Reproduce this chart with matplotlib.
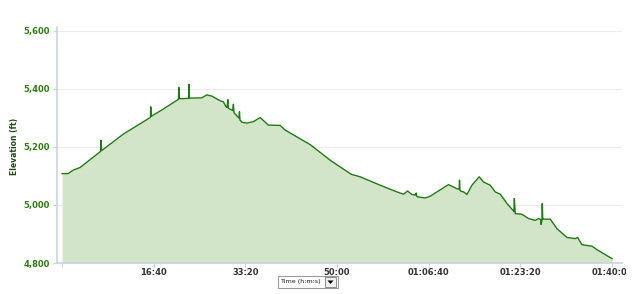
import matplotlib
matplotlib.use("Agg")
import matplotlib.pyplot as plt
from matplotlib.patches import Rectangle, Polygon
from matplotlib.transforms import Bbox

# elapsed time (s) and elevation (ft)
time_s = [0, 66, 123, 197, 415, 421, 426, 431, 669, 961, 965, 968, 972, 1103,
          1266, 1270, 1274, 1278, 1376, 1381, 1386, 1390, 1525, 1580, 1634,
          1725, 1761, 1790, 1800, 1809, 1815, 1853, 1862, 1870, 1876, 1925,
          1931, 1936, 1941, 1962, 2016, 2088, 2162, 2252, 2380, 2434, 2707,
          2926, 3144, 3163, 3253, 3472, 3654, 3726, 3770, 3818, 3860, 3865,
          3870, 3879, 3963, 4017, 4091, 4217, 4309, 4333, 4337, 4342, 4353,
          4381, 4418, 4473, 4552, 4599, 4672, 4727, 4782, 4855, 4927, 4931,
          4935, 4945, 5018, 5091, 5164, 5200, 5222, 5226, 5236, 5240, 5245,
          5255, 5328, 5401, 5510, 5600, 5626, 5673, 5783, 5837, 6001]
elev_ft = [5108, 5108, 5120, 5129, 5183, 5185, 5223, 5187, 5244, 5301, 5303, 5338,
           5305, 5330, 5363, 5364, 5405, 5366, 5367, 5367, 5416, 5368, 5369, 5379,
           5375, 5359, 5355, 5338, 5336, 5363, 5333, 5327, 5325, 5347, 5318, 5301,
           5299, 5321, 5293, 5285, 5282, 5287, 5301, 5275, 5274, 5258, 5208, 5154,
           5108, 5105, 5097, 5068, 5045, 5037, 5048, 5036, 5034, 5041, 5030, 5028,
           5024, 5030, 5045, 5070, 5056, 5054, 5085, 5050, 5047, 5045, 5036, 5068,
           5097, 5079, 5068, 5045, 5037, 5005, 4979, 4977, 5022, 4970, 4968, 4953,
           4947, 4953, 4950, 4933, 4945, 5005, 4951, 4951, 4951, 4918, 4888, 4884,
           4888, 4863, 4858, 4846, 4815]

x_ticks = [1000, 2000, 3000, 4000, 5000, 6000]
x_tick_labels = ["16:40", "33:20", "50:00", "01:06:40", "01:23:20", "01:40:00"]
y_ticks = [4800, 5000, 5200, 5400, 5600]
y_tick_labels = ["4,800", "5,000", "5,200", "5,400", "5,600"]

line_col = "#1e7a12"
fill_col = "#d3e5c8"
label_green = "#2e7d10"

W, H = 640, 294
fig = plt.figure(figsize=(6.4, 2.94), dpi=100)
ax = fig.add_axes([57 / W, 1 - 263 / H, 565 / W, 236 / H])

ax.fill_between(time_s, elev_ft, 4800, color=fill_col, lw=0)
ax.plot(time_s, elev_ft, color=line_col, lw=1.0)

ax.set_xlim(-55, 6110)
ax.set_ylim(4800, 5613)

ax.set_yticks(y_ticks)
ax.set_yticklabels(y_tick_labels, fontsize=6, fontweight="bold", color=label_green)
ax.set_xticks([0] + x_ticks)
ax.set_xticklabels([""] + x_tick_labels, fontsize=6, fontweight="bold", color="#333333")
ax.tick_params(axis="y", length=3, width=0.8, color="#c8d4e0", pad=2)
ax.tick_params(axis="x", length=3, width=0.8, color="#c8d4e0", pad=0.5)

ax.grid(axis="y", color="#ececec", lw=0.8)
ax.set_axisbelow(True)
for s in ["top", "right"]:
    ax.spines[s].set_visible(False)
ax.spines["left"].set_color("#c8d4e0")
ax.spines["left"].set_linewidth(1.2)
ax.spines["bottom"].set_color("#c8d4e0")
ax.spines["bottom"].set_linewidth(1.2)

fig.text(15 / W, 1 - 146 / H, "Elevation (ft)", fontsize=5.5, fontweight="bold",
         color="#1b4d12", rotation=90, ha="center", va="center")

# clip the last tick label at the chart edge, as in the source
fig.canvas.draw()
for lab in ax.get_xticklabels():
    lab.set_clip_on(True)
    lab.set_clip_box(Bbox.from_extents(0, 0, 626, 294))

# "Time (h:m:s)" selector box under the axis
fig.patches.append(Rectangle((278 / W, 1 - 288 / H), 60 / W, 12 / H, transform=fig.transFigure,
                             facecolor="white", edgecolor="#9a9a9a", lw=0.8))
fig.patches.append(Rectangle((325 / W, 1 - 287 / H), 11 / W, 10 / H, transform=fig.transFigure,
                             facecolor="#eeeeee", edgecolor="#7a7a7a", lw=0.6))
fig.patches.append(Polygon([[327.5 / W, 1 - 280.5 / H], [333.5 / W, 1 - 280.5 / H],
                            [330.5 / W, 1 - 284 / H]], closed=True, transform=fig.transFigure,
                           facecolor="black", edgecolor="none"))
fig.text(280 / W, 1 - 282 / H, "Time (h:m:s)", fontsize=4.6, color="#222222",
         ha="left", va="center")

fig.savefig("out.png", dpi=100)
